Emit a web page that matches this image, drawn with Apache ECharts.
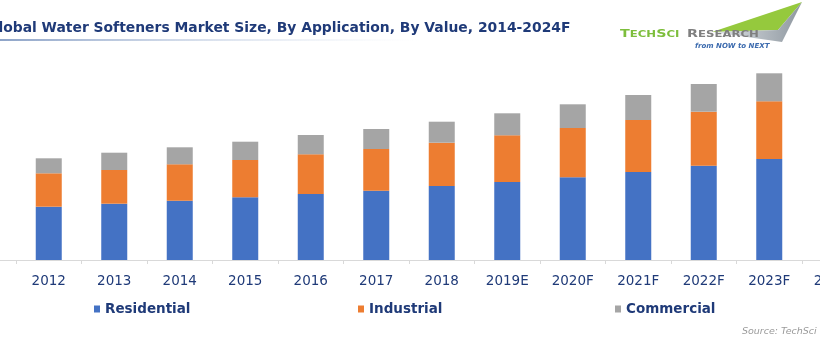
<!DOCTYPE html>
<html><head><meta charset="utf-8">
<script src="https://cdn.jsdelivr.net/npm/echarts@6/dist/echarts.min.js"></script>
<style>html,body{margin:0;padding:0;background:#fff}#c{width:820px;height:350px}</style>
</head><body><div id="c"></div>
<script>
const categories = ['', '2012','2013','2014','2015','2016','2017','2018','2019E','2020F','2021F','2022F','2023F','2024F'];
const residential = [null, 53.3, 56.3, 59.3, 62.7, 66, 69.3, 74, 78, 82.7, 88, 94.3, 101, 108];
const industrial  = [null, 33.4, 33.7, 36.4, 37.3, 39.7, 41.7, 43.3, 46.7, 49.3, 52, 54, 57.7, 61];
const commercial  = [null, 15, 17.3, 17, 18.3, 19.3, 20, 21, 22, 23.7, 25, 27.7, 28, 30];
const seriesNames = ['Residential','Industrial','Commercial'];
const colors = ['#4472C4','#ED7D31','#A5A5A5'];
const navy = '#1F3A78';

const chart = echarts.init(document.getElementById('c'), null, {renderer:'canvas'});
const legendPos = [94, 358, 615];
chart.setOption({
  animation:false,
  color: colors,
  grid:{left:-49.5, width:917, top:60, bottom:90, outerBoundsMode:'none', containLabel:false},
  xAxis:{type:'category', data:categories,
    axisLine:{lineStyle:{color:'#D9D9D9', width:1}},
    axisTick:{show:true, length:4, lineStyle:{color:'#D9D9D9'}},
    axisLabel:{color:navy, fontSize:13.5, fontFamily:'DejaVu Sans', margin:14, interval:0}},
  yAxis:{type:'value', min:0, max:200, show:false, splitLine:{show:false}},
  legend: seriesNames.map((n,i)=>({data:[n], left:legendPos[i], top:302, padding:0, icon:'rect', itemWidth:6, itemHeight:7, itemGap:3,
     textStyle:{color:navy, fontSize:13.5, fontWeight:'bold', fontFamily:'DejaVu Sans', padding:[0,0,0,0]}})),
  series:[
    {name:seriesNames[0], type:'bar', stack:'a', data:residential, barWidth:26},
    {name:seriesNames[1], type:'bar', stack:'a', data:industrial, barWidth:26},
    {name:seriesNames[2], type:'bar', stack:'a', data:commercial, barWidth:26}
  ],
  graphic:[
    {type:'text', x:-13, y:21, style:{text:'Global Water Softeners Market Size, By Application, By Value, 2014-2024F', fill:navy, font:'bold 13.9px "DejaVu Sans"'}},
    {type:'rect', shape:{x:0, y:39, width:420, height:2}, style:{fill:new echarts.graphic.LinearGradient(0,0,1,0,[{offset:0,color:'#8EA4C8'},{offset:1,color:'rgba(220,228,240,0)'}])}},
    {type:'polygon', shape:{points:[[712,32],[802,2],[778,30]]}, style:{fill:'#95C93D'}},
    {type:'polygon', shape:{points:[[712,32],[778,30],[802,2],[782,42]]}, style:{fill:new echarts.graphic.LinearGradient(0,0,1,0,[{offset:0,color:'#E2E6EA'},{offset:1,color:'#8E979F'}])}},
    {type:'text', x:620, y:29, scaleX:1.3, style:{text:'{a|T}{b|ECH}{a|S}{b|CI}', rich:{a:{fontSize:11,fontWeight:'bold',fill:'#7DBE3C',fontFamily:'DejaVu Sans'},b:{fontSize:9,fontWeight:'bold',fill:'#7DBE3C',fontFamily:'DejaVu Sans'}}}},
    {type:'text', x:687, y:29, scaleX:1.3, style:{text:'{a|R}{b|ESEARCH}', rich:{a:{fontSize:11,fontWeight:'bold',fill:'#7F7F7F',fontFamily:'DejaVu Sans'},b:{fontSize:9,fontWeight:'bold',fill:'#7F7F7F',fontFamily:'DejaVu Sans'}}}},
    {type:'text', x:695, y:43, style:{text:'from NOW to NEXT', fill:'#3B6AAE', font:'italic bold 7px "DejaVu Sans"'}},
    {type:'text', x:742, y:327, style:{text:'Source: TechSci Research', fill:'#9A9A9A', font:'italic 9.5px "DejaVu Sans"'}}
  ]
});
</script></body></html>
